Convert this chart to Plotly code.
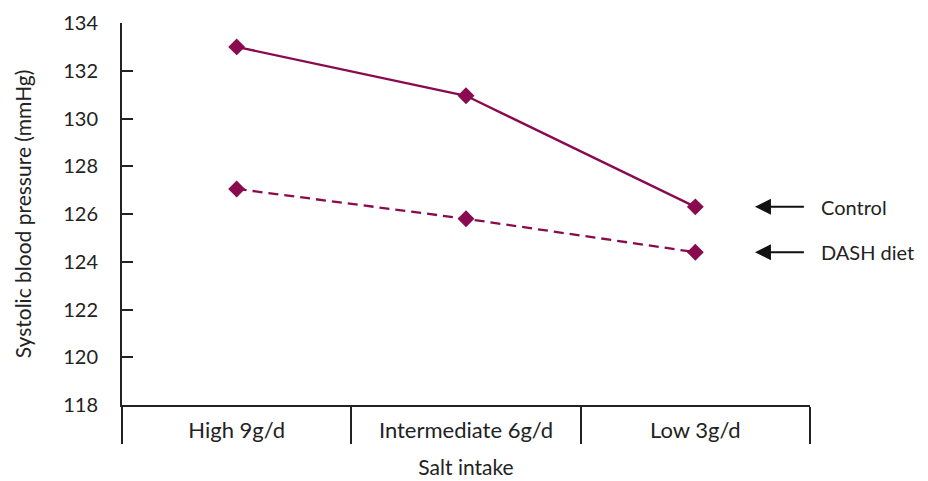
import plotly.graph_objects as go

categories = ["High 9g/d", "Intermediate 6g/d", "Low 3g/d"]
control = [133.0, 130.95, 126.3]
dash_diet = [127.05, 125.8, 124.4]
series_names = ["Control", "DASH diet"]
y_ticks = [118, 120, 122, 124, 126, 128, 130, 132, 134]

color = "#8a0a4f"
font = "Lato, 'Open Sans', sans-serif"
xpos = list(range(len(categories)))

fig = go.Figure()
fig.add_trace(go.Scatter(x=xpos, y=control, mode="lines+markers", name=series_names[0],
                         line=dict(color=color, width=2.3),
                         marker=dict(symbol="diamond", size=13, color=color), cliponaxis=False))
fig.add_trace(go.Scatter(x=xpos, y=dash_diet, mode="lines+markers", name=series_names[1],
                         line=dict(color=color, width=2.3, dash="10px,6px"),
                         marker=dict(symbol="diamond", size=13, color=color), cliponaxis=False))

# arrows + labels
for name, vals in zip(series_names, [control, dash_diet]):
    yv = vals[-1]
    fig.add_annotation(x=2.26, y=yv, xref="x", yref="y", ax=2.48, ay=yv, axref="x", ayref="y",
                       showarrow=True, arrowhead=2, arrowsize=1.6, arrowwidth=2, arrowcolor="#111",
                       text="")
    fig.add_annotation(x=1.013, y=yv, xref="paper", yref="y", text=name, showarrow=False,
                       xanchor="left", yanchor="middle", font=dict(size=20, color="#222", family=font))

fig.update_layout(
    width=920, height=473,
    margin=dict(l=114, r=118, t=15, b=76, autoexpand=False),
    paper_bgcolor="white", plot_bgcolor="white",
    showlegend=False,
    font=dict(family=font, size=21, color="#222"),
    xaxis=dict(range=[-0.5, 2.5], tickmode="array", tickvals=xpos, ticktext=categories,
               ticks="", showgrid=False, zeroline=False, automargin=False,
               showline=True, linecolor="#222", linewidth=2,
               ticklabelstandoff=5,
               minor=dict(tickmode="array", tickvals=[-0.5, 0.5, 1.5, 2.5], ticks="outside",
                          ticklen=37, tickwidth=2, tickcolor="#222", showgrid=False),
               title=dict(text="Salt intake", font=dict(size=21), standoff=18),
               tickfont=dict(size=22)),
    yaxis=dict(range=[118, 134], tickmode="array", tickvals=y_ticks,
               ticks="inside", ticklen=11, tickwidth=2, tickcolor="#222",
               showgrid=False, zeroline=False, automargin=False,
               showline=True, linecolor="#222", linewidth=2,
               ticklabelstandoff=18,
               title=dict(text="Systolic blood pressure (mmHg)", font=dict(size=21), standoff=26),
               tickfont=dict(size=20)),
)

fig.write_html("out.html")
